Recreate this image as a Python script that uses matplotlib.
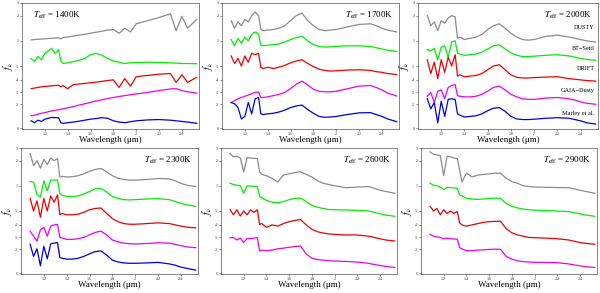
import matplotlib
matplotlib.use('Agg')
import matplotlib.pyplot as plt

plt.rcParams['font.family'] = ['Liberation Serif', 'DejaVu Serif']
plt.rcParams['mathtext.fontset'] = 'stix'

# common wavelength grid (micron)
wave = [1.08, 1.11, 1.14, 1.17, 1.20, 1.23, 1.26, 1.29, 1.32, 1.34, 1.36,
        1.40, 1.45, 1.50, 1.55, 1.60, 1.65, 1.70, 1.75, 1.80, 1.85, 1.90,
        1.95, 2.00, 2.10, 2.20, 2.30, 2.35, 2.40, 2.45, 2.53]

model_names = ['DUSTY', 'BT\u2212Settl', 'DRIFT', 'GAIA\u2212Dusty', 'Marley et al.']
model_colors = ['#8c8c8c', '#00ee00', '#ee0000', '#ee00ee', '#0000dd']
teffs = [1400, 1700, 2000, 2300, 2600, 2900]

xticks = [1.2, 1.4, 1.6, 1.8, 2.0, 2.2, 2.4]
xtick_labels = ['1.2', '1.4', '1.6', '1.8', '2', '2.2', '2.4']
yticks = [0.005, 0.196, 0.29, 0.39, 0.50, 0.70, 0.90, 1.0]
ytick_labels = ['0', '.2', '.3', '.4', '.5', '1', '2', '3']

# 1400K (normalised, offset flux)
t1400_dusty = [0.707, 0.71, 0.712, 0.714, 0.716, 0.718, 0.72, 0.722, 0.724, 0.715, 0.726,
               0.73, 0.738, 0.745, 0.752, 0.76, 0.768, 0.776, 0.785, 0.79, 0.76, 0.80,
               0.77, 0.835, 0.86, 0.885, 0.915, 0.78, 0.895, 0.80, 0.87]
t1400_settl = [0.56, 0.535, 0.575, 0.55, 0.60, 0.62, 0.64, 0.60, 0.63, 0.54, 0.52,
               0.525, 0.535, 0.545, 0.56, 0.59, 0.60, 0.585, 0.56, 0.54, 0.53, 0.52,
               0.525, 0.528, 0.53, 0.528, 0.525, 0.523, 0.52, 0.52, 0.518]
t1400_drift = [0.32, 0.325, 0.33, 0.335, 0.338, 0.34, 0.343, 0.345, 0.347, 0.335, 0.345,
               0.32, 0.352, 0.357, 0.362, 0.367, 0.372, 0.378, 0.385, 0.39, 0.33, 0.40,
               0.34, 0.415, 0.425, 0.435, 0.44, 0.37, 0.43, 0.37, 0.41]
t1400_gaia = [0.105, 0.11, 0.118, 0.125, 0.13, 0.137, 0.143, 0.148, 0.153, 0.157, 0.16,
              0.168, 0.178, 0.19, 0.20, 0.212, 0.222, 0.232, 0.242, 0.25, 0.258, 0.265,
              0.272, 0.278, 0.29, 0.305, 0.318, 0.32, 0.305, 0.295, 0.285]
t1400_marley = [0.065, 0.05, 0.07, 0.06, 0.078, 0.085, 0.092, 0.09, 0.09, 0.05, 0.045,
                0.05, 0.055, 0.062, 0.07, 0.078, 0.083, 0.09, 0.085, 0.065, 0.055, 0.05,
                0.058, 0.065, 0.072, 0.075, 0.07, 0.065, 0.06, 0.055, 0.045]

# 1700K
t1700_dusty = [0.86, 0.80, 0.85, 0.82, 0.87, 0.85, 0.90, 0.93, 0.90, 0.79, 0.78,
               0.785, 0.79, 0.80, 0.82, 0.86, 0.90, 0.92, 0.86, 0.82, 0.79, 0.78,
               0.785, 0.79, 0.81, 0.83, 0.835, 0.82, 0.80, 0.785, 0.77]
t1700_settl = [0.71, 0.66, 0.72, 0.68, 0.73, 0.70, 0.75, 0.77, 0.755, 0.665, 0.66,
               0.665, 0.67, 0.675, 0.69, 0.71, 0.725, 0.735, 0.70, 0.67, 0.655, 0.65,
               0.652, 0.655, 0.66, 0.66, 0.655, 0.645, 0.635, 0.625, 0.615]
t1700_drift = [0.58, 0.52, 0.56, 0.50, 0.58, 0.53, 0.60, 0.59, 0.60, 0.49, 0.48,
               0.49, 0.48, 0.49, 0.505, 0.525, 0.54, 0.55, 0.52, 0.495, 0.475, 0.465,
               0.46, 0.462, 0.468, 0.47, 0.465, 0.455, 0.45, 0.44, 0.432]
t1700_gaia = [0.21, 0.225, 0.24, 0.25, 0.26, 0.27, 0.28, 0.29, 0.293, 0.25, 0.25,
              0.255, 0.265, 0.275, 0.29, 0.32, 0.355, 0.38, 0.35, 0.315, 0.30, 0.295,
              0.295, 0.30, 0.32, 0.34, 0.345, 0.33, 0.31, 0.285, 0.262]
t1700_marley = [0.21, 0.20, 0.17, 0.08, 0.10, 0.21, 0.12, 0.24, 0.25, 0.12, 0.115,
                0.12, 0.125, 0.135, 0.15, 0.17, 0.183, 0.19, 0.155, 0.125, 0.10, 0.093,
                0.095, 0.10, 0.115, 0.128, 0.13, 0.115, 0.10, 0.08, 0.058]

# 2000K
t2000_dusty = [0.90, 0.82, 0.85, 0.78, 0.86, 0.84, 0.88, 0.90, 0.89, 0.72, 0.73,
               0.71, 0.72, 0.73, 0.75, 0.79, 0.82, 0.835, 0.80, 0.76, 0.73, 0.71,
               0.705, 0.71, 0.735, 0.745, 0.73, 0.72, 0.71, 0.70, 0.69]
t2000_settl = [0.63, 0.62, 0.64, 0.55, 0.65, 0.66, 0.57, 0.69, 0.70, 0.60, 0.595,
               0.585, 0.59, 0.595, 0.61, 0.635, 0.66, 0.668, 0.635, 0.605, 0.585, 0.575,
               0.575, 0.578, 0.585, 0.59, 0.58, 0.57, 0.56, 0.552, 0.545]
t2000_drift = [0.55, 0.44, 0.53, 0.40, 0.55, 0.45, 0.57, 0.50, 0.59, 0.42, 0.43,
               0.415, 0.42, 0.425, 0.44, 0.47, 0.50, 0.51, 0.47, 0.43, 0.41, 0.405,
               0.405, 0.408, 0.412, 0.415, 0.40, 0.395, 0.39, 0.385, 0.38]
t2000_gaia = [0.26, 0.29, 0.21, 0.30, 0.31, 0.24, 0.33, 0.345, 0.353, 0.265, 0.26,
              0.255, 0.255, 0.26, 0.275, 0.30, 0.33, 0.34, 0.31, 0.275, 0.255, 0.24,
              0.235, 0.235, 0.245, 0.25, 0.24, 0.23, 0.215, 0.205, 0.196]
t2000_marley = [0.24, 0.16, 0.21, 0.05, 0.22, 0.10, 0.235, 0.24, 0.235, 0.12, 0.11,
                0.095, 0.10, 0.105, 0.12, 0.145, 0.165, 0.17, 0.14, 0.10, 0.08, 0.075,
                0.075, 0.078, 0.085, 0.09, 0.085, 0.075, 0.065, 0.05, 0.039]

# 2300K
t2300_dusty = [0.955, 0.86, 0.90, 0.84, 0.91, 0.87, 0.92, 0.90, 0.916, 0.77, 0.775,
               0.77, 0.772, 0.78, 0.795, 0.815, 0.83, 0.838, 0.81, 0.78, 0.76, 0.75,
               0.745, 0.745, 0.75, 0.758, 0.755, 0.74, 0.72, 0.705, 0.694]
t2300_settl = [0.733, 0.73, 0.63, 0.61, 0.74, 0.66, 0.745, 0.745, 0.746, 0.64, 0.625,
               0.615, 0.615, 0.62, 0.635, 0.655, 0.675, 0.68, 0.65, 0.615, 0.60, 0.59,
               0.588, 0.59, 0.595, 0.598, 0.59, 0.575, 0.56, 0.55, 0.537]
t2300_drift = [0.60, 0.50, 0.58, 0.45, 0.60, 0.50, 0.62, 0.57, 0.628, 0.47, 0.48,
               0.47, 0.47, 0.475, 0.49, 0.51, 0.52, 0.524, 0.48, 0.44, 0.415, 0.40,
               0.395, 0.395, 0.40, 0.406, 0.40, 0.39, 0.38, 0.372, 0.366]
t2300_gaia = [0.34, 0.30, 0.26, 0.35, 0.37, 0.30, 0.38, 0.39, 0.393, 0.29, 0.285,
              0.275, 0.275, 0.28, 0.29, 0.31, 0.33, 0.34, 0.31, 0.27, 0.255, 0.245,
              0.24, 0.238, 0.242, 0.248, 0.245, 0.235, 0.225, 0.215, 0.209]
t2300_marley = [0.236, 0.14, 0.20, 0.065, 0.22, 0.12, 0.24, 0.245, 0.249, 0.131, 0.125,
                0.118, 0.118, 0.125, 0.14, 0.16, 0.178, 0.183, 0.15, 0.11, 0.095, 0.088,
                0.085, 0.085, 0.088, 0.092, 0.08, 0.07, 0.055, 0.045, 0.031]

# 2600K (no Marley et al. model)
t2600_dusty = [0.955, 0.93, 0.935, 0.92, 0.81, 0.925, 0.92, 0.918, 0.916, 0.81, 0.79,
               0.78, 0.76, 0.73, 0.785, 0.795, 0.805, 0.812, 0.79, 0.77, 0.74, 0.72,
               0.71, 0.70, 0.685, 0.69, 0.694, 0.68, 0.665, 0.655, 0.641]
t2600_settl = [0.72, 0.71, 0.705, 0.70, 0.64, 0.70, 0.698, 0.696, 0.694, 0.615, 0.605,
               0.585, 0.57, 0.565, 0.575, 0.59, 0.60, 0.602, 0.575, 0.545, 0.53, 0.52,
               0.512, 0.51, 0.508, 0.505, 0.50, 0.49, 0.478, 0.468, 0.458]
t2600_drift = [0.51, 0.47, 0.51, 0.46, 0.50, 0.47, 0.51, 0.49, 0.51, 0.393, 0.40,
               0.37, 0.39, 0.38, 0.40, 0.415, 0.425, 0.432, 0.39, 0.355, 0.335, 0.325,
               0.318, 0.314, 0.31, 0.31, 0.30, 0.29, 0.28, 0.27, 0.262]
t2600_gaia = [0.288, 0.29, 0.27, 0.285, 0.25, 0.283, 0.28, 0.285, 0.288, 0.183, 0.19,
              0.185, 0.19, 0.20, 0.205, 0.212, 0.218, 0.222, 0.16, 0.125, 0.115, 0.11,
              0.105, 0.103, 0.10, 0.095, 0.085, 0.075, 0.068, 0.06, 0.052]

# 2900K (no Marley et al. model)
t2900_dusty = [0.969, 0.95, 0.945, 0.94, 0.78, 0.935, 0.93, 0.92, 0.916, 0.825, 0.73,
               0.80, 0.77, 0.785, 0.79, 0.795, 0.80, 0.80, 0.76, 0.733, 0.72, 0.70,
               0.695, 0.69, 0.688, 0.686, 0.685, 0.675, 0.665, 0.655, 0.641]
t2900_settl = [0.72, 0.705, 0.70, 0.69, 0.67, 0.688, 0.685, 0.683, 0.68, 0.628, 0.62,
               0.60, 0.595, 0.592, 0.595, 0.60, 0.602, 0.60, 0.56, 0.537, 0.525, 0.515,
               0.51, 0.507, 0.503, 0.50, 0.495, 0.487, 0.477, 0.468, 0.458]
t2900_drift = [0.537, 0.50, 0.52, 0.47, 0.51, 0.48, 0.50, 0.48, 0.497, 0.406, 0.39,
               0.38, 0.39, 0.40, 0.41, 0.415, 0.418, 0.419, 0.36, 0.327, 0.31, 0.30,
               0.29, 0.288, 0.285, 0.28, 0.27, 0.26, 0.25, 0.243, 0.236]
t2900_gaia = [0.314, 0.30, 0.295, 0.29, 0.28, 0.285, 0.28, 0.278, 0.275, 0.209, 0.20,
              0.185, 0.185, 0.19, 0.192, 0.195, 0.197, 0.196, 0.14, 0.118, 0.105, 0.098,
              0.095, 0.093, 0.092, 0.09, 0.08, 0.072, 0.065, 0.058, 0.052]

panel_spectra = [
    [t1400_dusty, t1400_settl, t1400_drift, t1400_gaia, t1400_marley],
    [t1700_dusty, t1700_settl, t1700_drift, t1700_gaia, t1700_marley],
    [t2000_dusty, t2000_settl, t2000_drift, t2000_gaia, t2000_marley],
    [t2300_dusty, t2300_settl, t2300_drift, t2300_gaia, t2300_marley],
    [t2600_dusty, t2600_settl, t2600_drift, t2600_gaia],
    [t2900_dusty, t2900_settl, t2900_drift, t2900_gaia],
]

# label heights (axes fraction) of the model names in the 2000K panel
label_y = [0.79, 0.625, 0.47, 0.29, 0.115]

# panel frames in pixels: left, top, right, bottom
W, H = 600, 293
frames = [(22, 3, 199, 129), (222, 3, 399, 129), (418, 3, 598, 129),
          (21, 148, 198, 274), (221, 148, 397, 274), (421, 148, 597, 274)]

fig = plt.figure(figsize=(6, 2.93), dpi=100)

for i, (l, t, r, b) in enumerate(frames):
    ax = fig.add_axes([l / W, (H - b) / H, (r - l) / W, (b - t) / H])
    for spec, col in zip(panel_spectra[i], model_colors):
        ax.plot(wave, spec, color=col, lw=0.9)
    ax.set_xlim(1.0, 2.55)
    ax.set_ylim(0, 1)
    ax.set_xticks(xticks)
    ax.set_xticklabels(xtick_labels)
    ax.set_yticks(yticks)
    ax.set_yticklabels(ytick_labels)
    ax.tick_params(labelsize=3, length=1.5, width=0.4, pad=1, colors='#333333')
    for s in ax.spines.values():
        s.set_linewidth(0.5)
        s.set_color('#555555')
    ax.set_xlabel('Wavelength (\u03bcm)', fontsize=6.5, labelpad=0)
    ax.set_ylabel(r'$f_\nu$', fontsize=7, labelpad=0.5)
    title = r'$T_{\rm eff}$ = %dK' % teffs[i]
    if i == 0:
        ax.text(0.06, 0.88, title, transform=ax.transAxes, fontsize=6.5)
    else:
        ax.text(0.97, 0.88, title, transform=ax.transAxes, fontsize=6.5, ha='right')
    if i == 2:
        for name, yy in zip(model_names, label_y):
            ax.text(0.98, yy, name, transform=ax.transAxes, fontsize=4.5, ha='right')

fig.savefig('out.png', dpi=100)
